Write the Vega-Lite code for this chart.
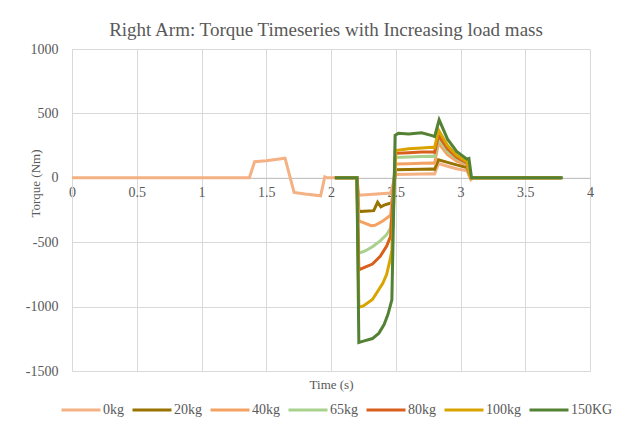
{
  "$schema": "https://vega.github.io/schema/vega-lite/v6.json",
  "width": 518,
  "height": 322,
  "autosize": {"type": "none"},
  "padding": {"left": 72, "top": 49, "right": 47, "bottom": 59},
  "background": "white",
  "title": {"text": "Right Arm: Torque Timeseries with Increasing load mass", "font": "Liberation Serif", "fontSize": 19, "fontWeight": "normal", "color": "#595959", "offset": 2, "anchor": "middle", "dx": -5},
  "config": {"view": {"stroke": null}},
  "data": {"values": [
    {"series": "0kg", "time": 0, "torque": 0},
    {"series": "0kg", "time": 1.37, "torque": 0},
    {"series": "0kg", "time": 1.41, "torque": 125},
    {"series": "0kg", "time": 1.5, "torque": 132},
    {"series": "0kg", "time": 1.645, "torque": 152},
    {"series": "0kg", "time": 1.715, "torque": -114},
    {"series": "0kg", "time": 1.8, "torque": -126},
    {"series": "0kg", "time": 1.92, "torque": -140},
    {"series": "0kg", "time": 1.952, "torque": 8},
    {"series": "0kg", "time": 1.97, "torque": 0},
    {"series": "0kg", "time": 2.2, "torque": 0},
    {"series": "0kg", "time": 2.215, "torque": -135},
    {"series": "0kg", "time": 2.3, "torque": -130},
    {"series": "0kg", "time": 2.46, "torque": -118},
    {"series": "0kg", "time": 2.5, "torque": 25},
    {"series": "0kg", "time": 2.6, "torque": 28},
    {"series": "0kg", "time": 2.7, "torque": 30},
    {"series": "0kg", "time": 2.78, "torque": 32},
    {"series": "0kg", "time": 2.8, "torque": 30},
    {"series": "0kg", "time": 2.83, "torque": 110},
    {"series": "0kg", "time": 2.9, "torque": 90},
    {"series": "0kg", "time": 2.97, "torque": 70},
    {"series": "0kg", "time": 3.05, "torque": 55},
    {"series": "0kg", "time": 3.08, "torque": -15},
    {"series": "0kg", "time": 3.1, "torque": 0},
    {"series": "0kg", "time": 3.78, "torque": 0},

    {"series": "20kg", "time": 2.03, "torque": 0},
    {"series": "20kg", "time": 2.2, "torque": 0},
    {"series": "20kg", "time": 2.215, "torque": -262},
    {"series": "20kg", "time": 2.33, "torque": -255},
    {"series": "20kg", "time": 2.36, "torque": -190},
    {"series": "20kg", "time": 2.385, "torque": -225},
    {"series": "20kg", "time": 2.41, "torque": -212},
    {"series": "20kg", "time": 2.45, "torque": -200},
    {"series": "20kg", "time": 2.47, "torque": -195},
    {"series": "20kg", "time": 2.5, "torque": 62},
    {"series": "20kg", "time": 2.6, "torque": 64},
    {"series": "20kg", "time": 2.7, "torque": 66},
    {"series": "20kg", "time": 2.78, "torque": 68},
    {"series": "20kg", "time": 2.8, "torque": 66},
    {"series": "20kg", "time": 2.83, "torque": 140},
    {"series": "20kg", "time": 2.9, "torque": 120},
    {"series": "20kg", "time": 2.97, "torque": 100},
    {"series": "20kg", "time": 3.05, "torque": 80},
    {"series": "20kg", "time": 3.08, "torque": 0},
    {"series": "20kg", "time": 3.78, "torque": 0},

    {"series": "40kg", "time": 2.03, "torque": 0},
    {"series": "40kg", "time": 2.2, "torque": 0},
    {"series": "40kg", "time": 2.215, "torque": -335},
    {"series": "40kg", "time": 2.26, "torque": -352},
    {"series": "40kg", "time": 2.31, "torque": -372},
    {"series": "40kg", "time": 2.34, "torque": -368},
    {"series": "40kg", "time": 2.4, "torque": -335},
    {"series": "40kg", "time": 2.46, "torque": -290},
    {"series": "40kg", "time": 2.5, "torque": 108},
    {"series": "40kg", "time": 2.6, "torque": 110},
    {"series": "40kg", "time": 2.7, "torque": 112},
    {"series": "40kg", "time": 2.78, "torque": 115},
    {"series": "40kg", "time": 2.8, "torque": 113},
    {"series": "40kg", "time": 2.83, "torque": 270},
    {"series": "40kg", "time": 2.9, "torque": 180},
    {"series": "40kg", "time": 2.97, "torque": 130},
    {"series": "40kg", "time": 3.05, "torque": 100},
    {"series": "40kg", "time": 3.08, "torque": 0},
    {"series": "40kg", "time": 3.78, "torque": 0},

    {"series": "65kg", "time": 2.03, "torque": 0},
    {"series": "65kg", "time": 2.2, "torque": 0},
    {"series": "65kg", "time": 2.215, "torque": -585},
    {"series": "65kg", "time": 2.26, "torque": -570},
    {"series": "65kg", "time": 2.32, "torque": -535},
    {"series": "65kg", "time": 2.38, "torque": -490},
    {"series": "65kg", "time": 2.43, "torque": -440},
    {"series": "65kg", "time": 2.46, "torque": -390},
    {"series": "65kg", "time": 2.5, "torque": 158},
    {"series": "65kg", "time": 2.6, "torque": 162},
    {"series": "65kg", "time": 2.7, "torque": 165},
    {"series": "65kg", "time": 2.78, "torque": 168},
    {"series": "65kg", "time": 2.8, "torque": 165},
    {"series": "65kg", "time": 2.83, "torque": 300},
    {"series": "65kg", "time": 2.9, "torque": 205},
    {"series": "65kg", "time": 2.97, "torque": 150},
    {"series": "65kg", "time": 3.05, "torque": 110},
    {"series": "65kg", "time": 3.08, "torque": 0},
    {"series": "65kg", "time": 3.78, "torque": 0},

    {"series": "80kg", "time": 2.03, "torque": 0},
    {"series": "80kg", "time": 2.2, "torque": 0},
    {"series": "80kg", "time": 2.215, "torque": -715},
    {"series": "80kg", "time": 2.25, "torque": -700},
    {"series": "80kg", "time": 2.32, "torque": -670},
    {"series": "80kg", "time": 2.38, "torque": -610},
    {"series": "80kg", "time": 2.43, "torque": -530},
    {"series": "80kg", "time": 2.46, "torque": -455},
    {"series": "80kg", "time": 2.5, "torque": 190},
    {"series": "80kg", "time": 2.6, "torque": 195},
    {"series": "80kg", "time": 2.7, "torque": 200},
    {"series": "80kg", "time": 2.78, "torque": 200},
    {"series": "80kg", "time": 2.8, "torque": 198},
    {"series": "80kg", "time": 2.83, "torque": 330},
    {"series": "80kg", "time": 2.9, "torque": 225},
    {"series": "80kg", "time": 2.97, "torque": 160},
    {"series": "80kg", "time": 3.05, "torque": 115},
    {"series": "80kg", "time": 3.08, "torque": 0},
    {"series": "80kg", "time": 3.78, "torque": 0},

    {"series": "100kg", "time": 2.03, "torque": 0},
    {"series": "100kg", "time": 2.2, "torque": 0},
    {"series": "100kg", "time": 2.215, "torque": -1005},
    {"series": "100kg", "time": 2.25, "torque": -995},
    {"series": "100kg", "time": 2.32, "torque": -945},
    {"series": "100kg", "time": 2.4, "torque": -820},
    {"series": "100kg", "time": 2.43, "torque": -750},
    {"series": "100kg", "time": 2.46, "torque": -620},
    {"series": "100kg", "time": 2.47, "torque": -560},
    {"series": "100kg", "time": 2.5, "torque": 212},
    {"series": "100kg", "time": 2.6, "torque": 225},
    {"series": "100kg", "time": 2.7, "torque": 232},
    {"series": "100kg", "time": 2.78, "torque": 238},
    {"series": "100kg", "time": 2.8, "torque": 235},
    {"series": "100kg", "time": 2.83, "torque": 370},
    {"series": "100kg", "time": 2.9, "torque": 250},
    {"series": "100kg", "time": 2.97, "torque": 175},
    {"series": "100kg", "time": 3.05, "torque": 125},
    {"series": "100kg", "time": 3.08, "torque": 0},
    {"series": "100kg", "time": 3.78, "torque": 0},

    {"series": "150KG", "time": 2.03, "torque": 0},
    {"series": "150KG", "time": 2.2, "torque": 0},
    {"series": "150KG", "time": 2.215, "torque": -1278},
    {"series": "150KG", "time": 2.25, "torque": -1268},
    {"series": "150KG", "time": 2.32, "torque": -1248},
    {"series": "150KG", "time": 2.37, "torque": -1206},
    {"series": "150KG", "time": 2.41, "torque": -1140},
    {"series": "150KG", "time": 2.44, "torque": -1060},
    {"series": "150KG", "time": 2.47, "torque": -947},
    {"series": "150KG", "time": 2.495, "torque": 330},
    {"series": "150KG", "time": 2.52, "torque": 345},
    {"series": "150KG", "time": 2.6, "torque": 340},
    {"series": "150KG", "time": 2.7, "torque": 350},
    {"series": "150KG", "time": 2.78, "torque": 328},
    {"series": "150KG", "time": 2.8, "torque": 320},
    {"series": "150KG", "time": 2.835, "torque": 450},
    {"series": "150KG", "time": 2.9, "torque": 300},
    {"series": "150KG", "time": 2.97, "torque": 205},
    {"series": "150KG", "time": 3.05, "torque": 145},
    {"series": "150KG", "time": 3.065, "torque": 150},
    {"series": "150KG", "time": 3.085, "torque": 0},
    {"series": "150KG", "time": 3.79, "torque": 0}
  ]},
  "mark": {"type": "line", "strokeWidth": 3},
  "encoding": {
    "x": {
      "field": "time", "type": "quantitative",
      "scale": {"domain": [0, 4], "nice": false, "zero": false},
      "axis": {
        "values": [0, 0.5, 1, 1.5, 2, 2.5, 3, 3.5, 4],
        "labelExpr": "'' + datum.value",
        "offset": -193.2,
        "title": "Time (s)",
        "titleFont": "Liberation Serif", "titleFontSize": 13, "titleFontWeight": "normal", "titleColor": "#595959",
        "titleY": 201, "titleBaseline": "top",
        "labelFont": "Liberation Serif", "labelFontSize": 14, "labelColor": "#595959",
        "labelPadding": 8, "labelFlush": false, "labelOverlap": false,
        "ticks": false, "tickSize": 0,
        "domainColor": "#BFBFBF", "domainWidth": 1,
        "grid": true, "gridColor": "#D9D9D9", "gridWidth": 1
      }
    },
    "y": {
      "field": "torque", "type": "quantitative",
      "scale": {"domain": [-1500, 1000], "nice": false, "zero": false},
      "axis": {
        "values": [-1500, -1000, -500, 0, 500, 1000],
        "labelExpr": "'' + datum.value",
        "title": "Torque (Nm)",
        "titleFont": "Liberation Serif", "titleFontSize": 13, "titleFontWeight": "normal", "titleColor": "#595959",
        "titleX": -37, "titleY": 134, "titleAngle": -90, "titleAlign": "center", "titleBaseline": "middle",
        "labelFont": "Liberation Serif", "labelFontSize": 14, "labelColor": "#595959",
        "labelPadding": 14, "labelFlush": false, "labelOverlap": false,
        "ticks": false, "tickSize": 0,
        "domainColor": "#D9D9D9", "domainWidth": 1,
        "grid": true, "gridColor": "#D9D9D9", "gridWidth": 1
      }
    },
    "color": {
      "field": "series", "type": "nominal",
      "scale": {
        "domain": ["0kg", "20kg", "40kg", "65kg", "80kg", "100kg", "150KG"],
        "range": ["#F4B183", "#997300", "#F4A263", "#A9D18E", "#D9601C", "#D9A300", "#548235"]
      },
      "legend": {
        "title": null,
        "orient": "none",
        "direction": "horizontal",
        "legendX": -12,
        "legendY": 340,
        "gridAlign": "none",
        "symbolType": "stroke",
        "symbolSize": 1521,
        "symbolStrokeWidth": 3,
        "labelFont": "Liberation Serif", "labelFontSize": 14, "labelColor": "#595959",
        "labelOffset": 1,
        "columnPadding": 2,
        "padding": 0
      }
    }
  }
}
